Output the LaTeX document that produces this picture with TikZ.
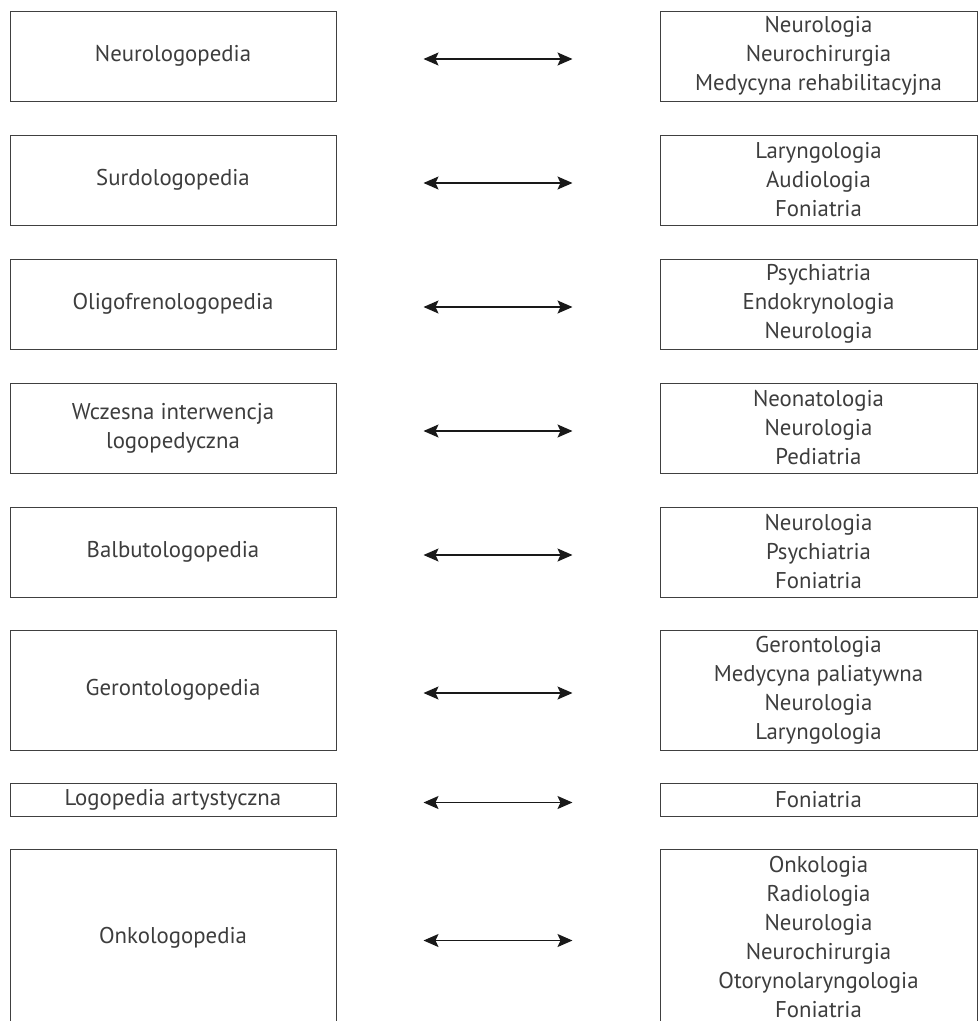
\documentclass[tikz,border=0pt]{standalone}
\usepackage{fontspec}
\setmainfont{PT Sans}
\usepackage{tikz}
\usetikzlibrary{arrows.meta}
\definecolor{boxgray}{rgb}{0.25, 0.25, 0.25}
\definecolor{txtgray}{rgb}{0.24, 0.24, 0.24}

\begin{document}
\begin{tikzpicture}[x=1pt, y=-1pt,
  fieldbox/.style={draw=boxgray, line width=1pt, rectangle, inner sep=0pt, align=center, text=txtgray, font=\fontsize{22.8}{29}\selectfont},
  leftbox/.style={fieldbox, minimum width=326pt},
  rightbox/.style={fieldbox, minimum width=317pt},
  linkarrow/.style={{Stealth[length=15pt, width=13pt, inset=3pt]}-{Stealth[length=15pt, width=13pt, inset=3pt]}, line width=1.3pt, black!90, shorten <=87pt, shorten >=87pt}]
\useasboundingbox (0,0) rectangle (978,1021);
\clip (0,0) rectangle (978,1021);
\pgfmathsetmacro{\leftx}{173}
\pgfmathsetmacro{\rightx}{818.5}

\node[leftbox, minimum height=90pt] (neuro) at (\leftx,56) {Neurologopedia};
\node[rightbox, minimum height=90pt] (neuromed) at (\rightx,56) {Neurologia\\Neurochirurgia\\Medycyna rehabilitacyjna};
\draw[linkarrow] ([yshift=-3pt]neuro.east) -- ([yshift=-3pt]neuromed.west);

\node[leftbox, minimum height=90pt] (surdo) at (\leftx,180) {Surdologopedia};
\node[rightbox, minimum height=90pt] (surdomed) at (\rightx,180) {Laryngologia\\Audiologia\\Foniatria};
\draw[linkarrow] ([yshift=-3pt]surdo.east) -- ([yshift=-3pt]surdomed.west);

\node[leftbox, minimum height=90pt] (oligo) at (\leftx,304) {Oligofrenologopedia};
\node[rightbox, minimum height=90pt] (oligomed) at (\rightx,304) {Psychiatria\\Endokrynologia\\Neurologia};
\draw[linkarrow] ([yshift=-3pt]oligo.east) -- ([yshift=-3pt]oligomed.west);

\node[leftbox, minimum height=90pt] (early) at (\leftx,428) {Wczesna interwencja\\logopedyczna};
\node[rightbox, minimum height=90pt] (earlymed) at (\rightx,428) {Neonatologia\\Neurologia\\Pediatria};
\draw[linkarrow] ([yshift=-3pt]early.east) -- ([yshift=-3pt]earlymed.west);

\node[leftbox, minimum height=90pt] (balbu) at (\leftx,552) {Balbutologopedia};
\node[rightbox, minimum height=90pt] (balbumed) at (\rightx,552) {Neurologia\\Psychiatria\\Foniatria};
\draw[linkarrow] ([yshift=-3pt]balbu.east) -- ([yshift=-3pt]balbumed.west);

\node[leftbox, minimum height=120pt] (geronto) at (\leftx,690) {Gerontologopedia};
\node[rightbox, minimum height=120pt] (gerontomed) at (\rightx,690) {Gerontologia\\Medycyna paliatywna\\Neurologia\\Laryngologia};
\draw[linkarrow] ([yshift=-3pt]geronto.east) -- ([yshift=-3pt]gerontomed.west);

\node[leftbox, minimum height=33pt] (artist) at (\leftx,799.5) {Logopedia artystyczna};
\node[rightbox, minimum height=33pt] (artistmed) at (\rightx,799.5) {Foniatria};
\draw[linkarrow] ([yshift=-3pt]artist.east) -- ([yshift=-3pt]artistmed.west);

\node[leftbox, minimum height=177pt] (onko) at (\leftx,937.5) {Onkologopedia};
\node[rightbox, minimum height=177pt] (onkomed) at (\rightx,937.5) {Onkologia\\Radiologia\\Neurologia\\Neurochirurgia\\Otorynolaryngologia\\Foniatria};
\draw[linkarrow] ([yshift=-3pt]onko.east) -- ([yshift=-3pt]onkomed.west);
\end{tikzpicture}
\end{document}
